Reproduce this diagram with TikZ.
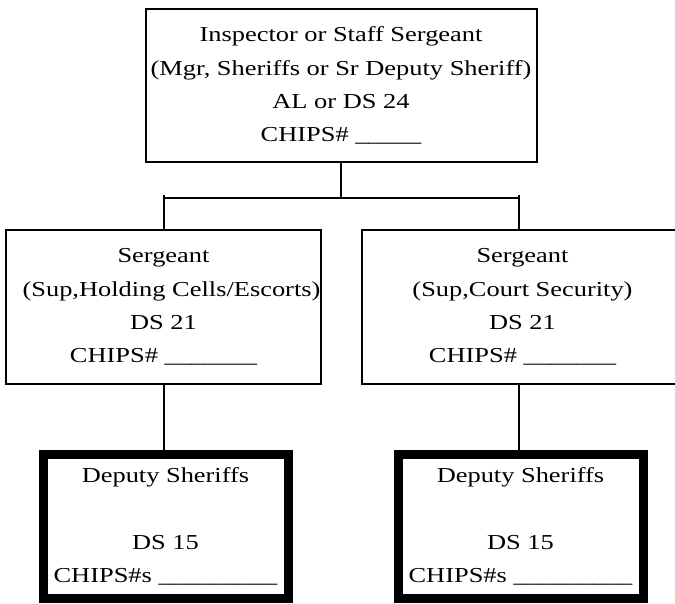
\documentclass[tikz,border=0pt]{standalone}
\usepackage{fontspec}
\setmainfont[FakeStretch=1.24]{Liberation Serif}
\newcommand{\boxfont}{\fontsize{21.3}{33.2}\selectfont}
\begin{document}
\begin{tikzpicture}[x=1pt,y=-1pt,
  thinbox/.style={draw,line width=2pt,inner sep=0pt,align=center,font=\boxfont},
  thickbox/.style={draw,line width=9pt,inner sep=0pt,align=center,font=\boxfont,
                   minimum width=245pt,minimum height=144pt},
  conn/.style={draw,line width=2pt}]
\useasboundingbox (0,0) rectangle (675,604);

\node[thinbox,minimum width=391pt,minimum height=153pt] (top) at (341,85.5)
  {Inspector or Staff Sergeant\\(Mgr, Sheriffs or Sr Deputy Sheriff)\\AL or DS 24\\CHIPS\# \_\_\_\_\_};

\node[thinbox,minimum width=315pt,minimum height=154pt] (ls) at (163.5,307)
  {Sergeant\\\hspace*{16pt}(Sup,Holding Cells/Escorts)\\DS 21\\CHIPS\# \_\_\_\_\_\_\_};
\node[thinbox,minimum width=321pt,minimum height=154pt] (rs) at (522.5,307)
  {Sergeant\\(Sup,Court Security)\\DS 21\\CHIPS\# \_\_\_\_\_\_\_};

\node[thickbox] (ld) at (165.5,526.5)
  {Deputy Sheriffs\\[33.5pt]DS 15\\CHIPS\#s \_\_\_\_\_\_\_\_\_};
\node[thickbox] (rd) at (520.5,526.5)
  {Deputy Sheriffs\\[33.5pt]DS 15\\CHIPS\#s \_\_\_\_\_\_\_\_\_};

\coordinate (j) at (341,198);
\coordinate (jl) at (163.5,198);
\coordinate (jr) at (519,198);
\coordinate (jlt) at (163.5,195);
\coordinate (jrt) at (519,195);

\draw[conn] (top.south) -- (j);
\draw[conn] (jl) -- (jr);
\draw[conn] (jlt) -- (ls.north);
\draw[conn] (jrt) -- (rs.north -| jrt);
\draw[conn] (ls.south) -- (ld.north -| ls.south);
\draw[conn] (rs.south -| jr) -- (rd.north -| jr);
\end{tikzpicture}
\end{document}
